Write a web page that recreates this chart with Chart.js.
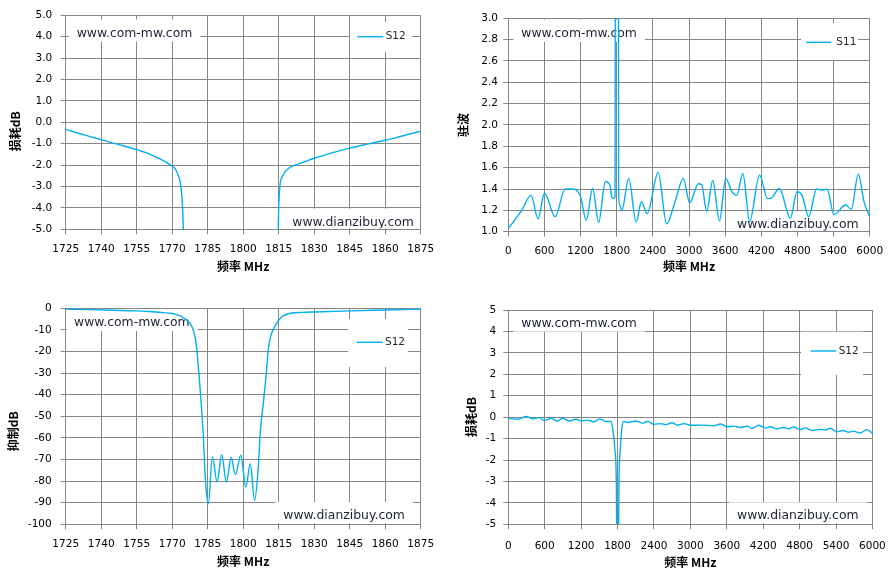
<!DOCTYPE html>
<html>
<head>
<meta charset="utf-8">
<script src="https://cdn.jsdelivr.net/npm/chart.js@4.4.1/dist/chart.umd.min.js"></script>
<style>
html, body { margin: 0; padding: 0; background: #fff; }
#wrap { position: relative; width: 896px; height: 582px; overflow: hidden; }
canvas { position: absolute; }
</style>
</head>
<body>
<div id="wrap">
  <canvas id="c1" style="left:0;top:0" width="448" height="290"></canvas>
  <canvas id="c2" style="left:448px;top:0" width="448" height="290"></canvas>
  <canvas id="c3" style="left:0;top:290px" width="448" height="292"></canvas>
  <canvas id="c4" style="left:448px;top:290px" width="448" height="292"></canvas>
</div>
<script>
// ---------- 刻度 ----------
const freqTicksNarrow = [1725, 1740, 1755, 1770, 1785, 1800, 1815, 1830, 1845, 1860, 1875];
const freqTicksWide = [0, 600, 1200, 1800, 2400, 3000, 3600, 4200, 4800, 5400, 6000];
const lossTicks = [-5, -4, -3, -2, -1, 0, 1, 2, 3, 4, 5];
const swrTicks = [1.0, 1.2, 1.4, 1.6, 1.8, 2.0, 2.2, 2.4, 2.6, 2.8, 3.0];
const rejTicks = [-100, -90, -80, -70, -60, -50, -40, -30, -20, -10, 0];

// ---------- 图1: 通带损耗 S12 ----------
const passFreq = [1725, 1730, 1735, 1740, 1745, 1750, 1755, 1760, 1765, 1768, 1770, 1771.4, 1772.6, 1773.7, 1774.4, 1774.7, 1775,
  1814.5, 1814.8, 1815, 1815.5, 1816.7, 1818.6, 1821.9, 1825, 1830, 1837.5, 1845, 1852.5, 1860, 1867.5, 1875];
const passS12 = [-0.33, -0.5, -0.66, -0.81, -0.97, -1.12, -1.28, -1.46, -1.72, -1.9, -2.05, -2.2, -2.5, -3.0, -4.0, -5.0, -7,
  -7, -5.0, -4.0, -3.0, -2.5, -2.2, -2.0, -1.88, -1.68, -1.43, -1.21, -1.02, -0.84, -0.63, -0.42];

// ---------- 图2: 驻波 S11 ----------
const swrFreq = [0, 222, 378, 494, 600, 778, 944, 1056, 1194, 1294, 1400, 1500, 1612, 1690, 1720, 1755, 1772, 1782, 1822, 1832, 1850,
  1883, 2000, 2122, 2211, 2305, 2489, 2628, 2778, 2906, 3011, 3155, 3211, 3294, 3394, 3506, 3611, 3711, 3794, 3894,
  4006, 4172, 4305, 4378, 4500, 4683, 4794, 4878, 4989, 5117, 5211, 5294, 5405, 5600, 5694, 5811, 5906, 6000];
const swrS11 = [1.03, 1.2, 1.34, 1.12, 1.36, 1.14, 1.40, 1.40, 1.34, 1.105, 1.405, 1.087, 1.47, 1.43, 1.32, 1.31, 1.33, 9, 9, 1.35, 1.25,
  1.195, 1.5, 1.09, 1.28, 1.17, 1.555, 1.074, 1.30, 1.50, 1.27, 1.45, 1.44, 1.19, 1.48, 1.10, 1.50, 1.375, 1.34, 1.545,
  1.096, 1.53, 1.31, 1.32, 1.405, 1.127, 1.375, 1.34, 1.14, 1.40, 1.39, 1.40, 1.16, 1.25, 1.21, 1.54, 1.28, 1.14];

// ---------- 图3: 抑制 S12 ----------
const rejFreq = [1725, 1735, 1745, 1755, 1762, 1766, 1770, 1772, 1773.5, 1775, 1777, 1778.2, 1779.1, 1780.1, 1780.8, 1781.5, 1782.3,
  1783, 1784, 1785.3, 1787, 1789, 1790.9, 1792.9, 1794.9, 1796.7, 1799, 1801.1, 1803, 1804.8, 1806.3, 1807.3, 1808.5,
  1809.5, 1810.1, 1810.6, 1811.6, 1813.7, 1816.5, 1820, 1825, 1830, 1845, 1860, 1875];
const rejS12 = [-0.4, -0.6, -0.9, -1.2, -1.6, -2.0, -2.4, -3.0, -3.5, -4.6, -6.2, -8.2, -10.8, -16, -24, -33, -45,
  -56, -79, -90.5, -68.8, -80.5, -67.7, -80.5, -69.1, -77, -68, -82.7, -72, -89, -75, -56, -44,
  -33, -25.5, -19, -13, -7.7, -3.8, -2.3, -1.9, -1.7, -1.2, -0.8, -0.4];

// ---------- 图4: 宽带损耗 S12 ----------
const wideFreq = [0, 160, 296, 405, 498, 597, 706, 805, 898, 1007, 1117, 1199, 1308, 1407, 1500, 1609, 1690, 1724, 1757, 1780, 1793,
  1810, 1823, 1846, 1867, 1900, 1965, 2102, 2211, 2294, 2403, 2513, 2595, 2704, 2786, 2896, 3005, 3169, 3388, 3498,
  3607, 3717, 3826, 3936, 4018, 4127, 4237, 4319, 4428, 4538, 4620, 4702, 4812, 4894, 5003, 5140, 5222, 5304, 5414,
  5523, 5605, 5687, 5796, 5906, 6000];
const wideS12 = [-0.05, -0.1, 0.03, -0.08, -0.02, -0.15, -0.05, -0.18, -0.05, -0.18, -0.1, -0.18, -0.14, -0.22, -0.08, -0.2, -0.2, -0.6, -1.53, -3.07, -8,
  -8, -3.07, -1.53, -0.6, -0.2, -0.25, -0.18, -0.28, -0.2, -0.33, -0.3, -0.35, -0.26, -0.38, -0.3, -0.38, -0.37, -0.4, -0.32,
  -0.45, -0.42, -0.48, -0.42, -0.52, -0.38, -0.5, -0.45, -0.55, -0.48, -0.55, -0.46, -0.58, -0.5, -0.62, -0.57, -0.6, -0.52, -0.68,
  -0.62, -0.7, -0.65, -0.74, -0.58, -0.75];

const lineColor = '#00B0F0';
const gridColor = '#868686';
const tickFont = { family: '"DejaVu Sans", sans-serif', size: 10.5 };
const titleFont = { family: '"Noto Sans CJK SC", sans-serif', size: 12, weight: 'bold' };

// 水印 + 图例
const decor = {
  id: 'decor',
  beforeDatasetsDraw(chart, args, opts) {
    const { ctx, chartArea: a } = chart;
    ctx.save();
    ctx.beginPath();
    ctx.rect(a.left + 1, a.top + 1, a.right - a.left - 2, a.bottom - a.top - 2);
    ctx.clip();
    ctx.font = '12.4px "DejaVu Sans"';
    ctx.textBaseline = 'alphabetic';
    opts.marks.forEach(m => {
      const w = ctx.measureText(m.text).width;
      ctx.fillStyle = '#fff';
      ctx.fillRect(m.x - 8, m.y - 17, w + 16, 22);
      ctx.fillStyle = '#1c2233';
      ctx.fillText(m.text, m.x, m.y);
    });
    ctx.restore();
  },
  afterDraw(chart, args, opts) {
    const { ctx } = chart;
    const lg = opts.legend;
    ctx.save();
    ctx.fillStyle = '#fff';
    ctx.fillRect(lg.box[0], lg.box[1], lg.box[2], lg.box[3]);
    ctx.strokeStyle = lineColor;
    ctx.lineWidth = 1.4;
    ctx.beginPath();
    ctx.moveTo(lg.line[0], lg.line[2]);
    ctx.lineTo(lg.line[1], lg.line[2]);
    ctx.stroke();
    ctx.fillStyle = '#262626';
    ctx.font = '10.5px "DejaVu Sans"';
    ctx.textBaseline = 'middle';
    ctx.fillText(chart.data.datasets[0].label, lg.tx, lg.line[2]);
    ctx.restore();
  }
};

function plotChart(id, p) {
  const W = 448, H = p.h;
  const [l, t, r, b] = p.area;
  return new Chart(document.getElementById(id), {
    type: 'line',
    data: {
      datasets: [{
        label: p.label,
        data: p.x.map((f, i) => ({ x: f, y: p.y[i] })),
        borderColor: lineColor,
        borderWidth: 1.4,
        pointRadius: 0,
        cubicInterpolationMode: 'monotone',
        fill: false
      }]
    },
    options: {
      responsive: false,
      animation: false,
      events: [],
      layout: { padding: { top: t, right: W - r, left: 0, bottom: 0 } },
      plugins: {
        legend: { display: false },
        tooltip: { enabled: false },
        decor: { marks: p.marks, legend: p.legend }
      },
      scales: {
        x: {
          type: 'linear',
          min: p.xTicks[0],
          max: p.xTicks[p.xTicks.length - 1],
          afterBuildTicks: s => { s.ticks = p.xTicks.map(v => ({ value: v })); },
          afterFit: s => { s.height = H - b; },
          grid: { color: gridColor, lineWidth: 1, tickLength: 5 },
          border: { color: gridColor, width: 1 },
          ticks: { padding: p.xPad, color: '#000', font: tickFont, maxRotation: 0, autoSkip: false, callback: v => String(v) },
          title: { display: true, text: '频率 MHz', color: '#000', font: titleFont, padding: { top: 0, bottom: p.xTitlePad } }
        },
        y: {
          type: 'linear',
          min: p.yTicks[0],
          max: p.yTicks[p.yTicks.length - 1],
          afterBuildTicks: s => { s.ticks = p.yTicks.map(v => ({ value: v })); },
          afterFit: s => { s.width = l; },
          grid: { color: gridColor, lineWidth: 1, tickLength: 5 },
          border: { color: gridColor, width: 1 },
          ticks: { padding: p.yPad, color: '#000', font: tickFont, autoSkip: false, callback: v => v.toFixed(p.yDigits) },
          title: { display: true, text: p.yTitle, color: '#000', font: titleFont, padding: { top: p.yTitlePad, bottom: 0 } }
        }
      }
    },
    plugins: [decor]
  });
}

plotChart('c1', {
  h: 290, area: [65.7, 15.3, 420.7, 229.3], label: 'S12',
  x: passFreq, y: passS12, xTicks: freqTicksNarrow, yTicks: lossTicks, yDigits: 1,
  yTitle: '损耗dB\u3000\u2002', xPad: 8.5, yPad: 8.4, xTitlePad: 16.1, yTitlePad: 7.8,
  marks: [{ text: 'www.com-mw.com', x: 76.7, y: 36.5 }, { text: 'www.dianzibuy.com', x: 292.3, y: 225.7 }],
  legend: { box: [350, 22, 62, 30], line: [357.3, 383.3, 36.7], tx: 385.7 }
});

plotChart('c2', {
  h: 290, area: [60.3, 18.3, 421.7, 231.7], label: 'S11',
  x: swrFreq, y: swrS11, xTicks: freqTicksWide, yTicks: swrTicks, yDigits: 1,
  yTitle: '驻波', xPad: 7.8, yPad: 5.3, xTitlePad: 16.1, yTitlePad: 7.8,
  marks: [{ text: 'www.com-mw.com', x: 73.3, y: 36.7 }, { text: 'www.dianzibuy.com', x: 289, y: 228.3 }],
  legend: { box: [353, 23, 57, 37], line: [358.3, 383.3, 42.3], tx: 388.3 }
});

plotChart('c3', {
  h: 292, area: [65.7, 18.3, 420.7, 234.3], label: 'S12',
  x: rejFreq, y: rejS12, xTicks: freqTicksNarrow, yTicks: rejTicks, yDigits: 0,
  yTitle: '抑制dB\u3000\u3000\u2002', xPad: 8.5, yPad: 9, xTitlePad: 13.1, yTitlePad: 6.1,
  marks: [{ text: 'www.com-mw.com', x: 74, y: 36 }, { text: 'www.dianzibuy.com', x: 283.3, y: 229 }],
  legend: { box: [348, 29, 60, 48], line: [356.7, 382.7, 52.3], tx: 385 }
});

plotChart('c4', {
  h: 292, area: [60.3, 20, 425.7, 234.3], label: 'S12',
  x: wideFreq, y: wideS12, xTicks: freqTicksWide, yTicks: lossTicks, yDigits: 0,
  yTitle: '损耗dB', xPad: 10.2, yPad: 7, xTitlePad: 12.1, yTitlePad: 16.1,
  marks: [{ text: 'www.com-mw.com', x: 73.3, y: 36.7 }, { text: 'www.dianzibuy.com', x: 289, y: 229.3 }],
  legend: { box: [353, 41.7, 62, 43.3], line: [362.7, 388.3, 61], tx: 390.7 }
});
</script>
</body>
</html>
